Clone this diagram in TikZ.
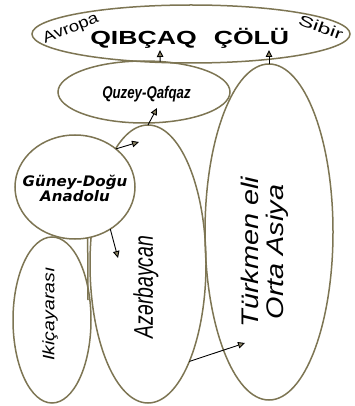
\documentclass[tikz,border=0pt]{standalone}
\usepackage{fontspec}
\setmainfont{Liberation Sans}
\newfontfamily\dvfont{DejaVu Sans}
\usetikzlibrary{shapes.geometric,arrows.meta}
\definecolor{olivec}{RGB}{125,117,83}
\definecolor{tipc}{RGB}{140,132,100}
\begin{document}
\begin{tikzpicture}[x=1pt,y=-1pt,
  region/.style={draw=olivec, line width=1.5pt, ellipse, inner sep=0pt, outer sep=0pt},
  arr/.style={draw=black, line width=0.9pt, -{Triangle[length=7pt,width=6.5pt,fill=tipc]}},
  olvline/.style={draw=olivec, line width=1.5pt},
  lbl/.style={inner sep=0pt, text=black}]
\useasboundingbox (0,0) rectangle (355,406);
% regions
\node[region, minimum width=116pt, minimum height=278pt] (azer) at (148,264) {};
\node[region, minimum width=128pt, minimum height=336pt] (turk) at (269,232) {};
\node[region, minimum width=78pt, minimum height=166pt] (ikic) at (52,320) {};
\node[region, fill=white, minimum width=120pt, minimum height=104pt] (guney) at (75,187) {};
\node[region, minimum width=172pt, minimum height=62pt] (quzey) at (144,92) {};
\node[region, minimum width=318pt, minimum height=58pt] (top) at (191,34) {};
% line below the circle
\coordinate (l1) at (88,300);
\draw[olvline] (guney.-76) -- (l1);
% arrows
\coordinate (t1) at (160,50);
\coordinate (t2) at (269,50);
\coordinate (t3) at (157,108);
\coordinate (t4) at (139,142);
\coordinate (t5) at (118,258);
\coordinate (t6) at (245,343);
\draw[arr] (quzey.62) -- (t1);
\draw[arr] (turk.north) -- (t2);
\draw[arr] (azer.north) -- (t3);
\draw[arr] (guney.43) -- (t4);
\draw[arr] (guney.-50) -- (t5);
\draw[arr] (azer.-67) -- (t6);
% texts
\node[lbl, rotate=22, font=\fontsize{15.5}{15.5}\selectfont] (avropa) at (71,29) {\scalebox{1.2}[1]{Avropa}};
\node[lbl, rotate=-20, font=\fontsize{15}{15}\selectfont] (sibir) at (321,27) {\scalebox{1.55}[1]{Sibir}};
\node[lbl, anchor=base, font=\bfseries\fontsize{19}{19}\selectfont] (q1) at (143.5,45) {\scalebox{1.4}[1]{QIBÇAQ}};
\node[lbl, anchor=base, font=\bfseries\fontsize{19}{19}\selectfont] (q2) at (251.5,45) {\scalebox{1.4}[1]{ÇÖLÜ}};
\node[lbl, anchor=base, font=\bfseries\itshape\fontsize{17}{17}\selectfont] (qz) at (146.5,99) {\scalebox{0.78}[1]{Quzey-Qafqaz}};
\node[lbl, align=center, font=\dvfont\bfseries\itshape\fontsize{14.5}{13.5}\selectfont] (gd) at (75,188) {\scalebox{1.04}[1]{Güney-Doğu}\\\scalebox{1.04}[1]{Anadolu}};
\node[lbl, rotate=90, font=\itshape\fontsize{16.5}{16.5}\selectfont] (ik) at (50,314) {\scalebox{1.18}[1]{Ikiçayarası}};
\node[lbl, rotate=90, font=\itshape\fontsize{27}{27}\selectfont] (az) at (146,287) {\scalebox{0.72}[1]{Azərbaycan}};
\node[lbl, rotate=90, align=center, font=\itshape\fontsize{24}{25}\selectfont] (tk) at (265,252) {\scalebox{1.2}[1]{Türkmen eli}\\\scalebox{1.2}[1]{Orta Asiya}};
\end{tikzpicture}
\end{document}
